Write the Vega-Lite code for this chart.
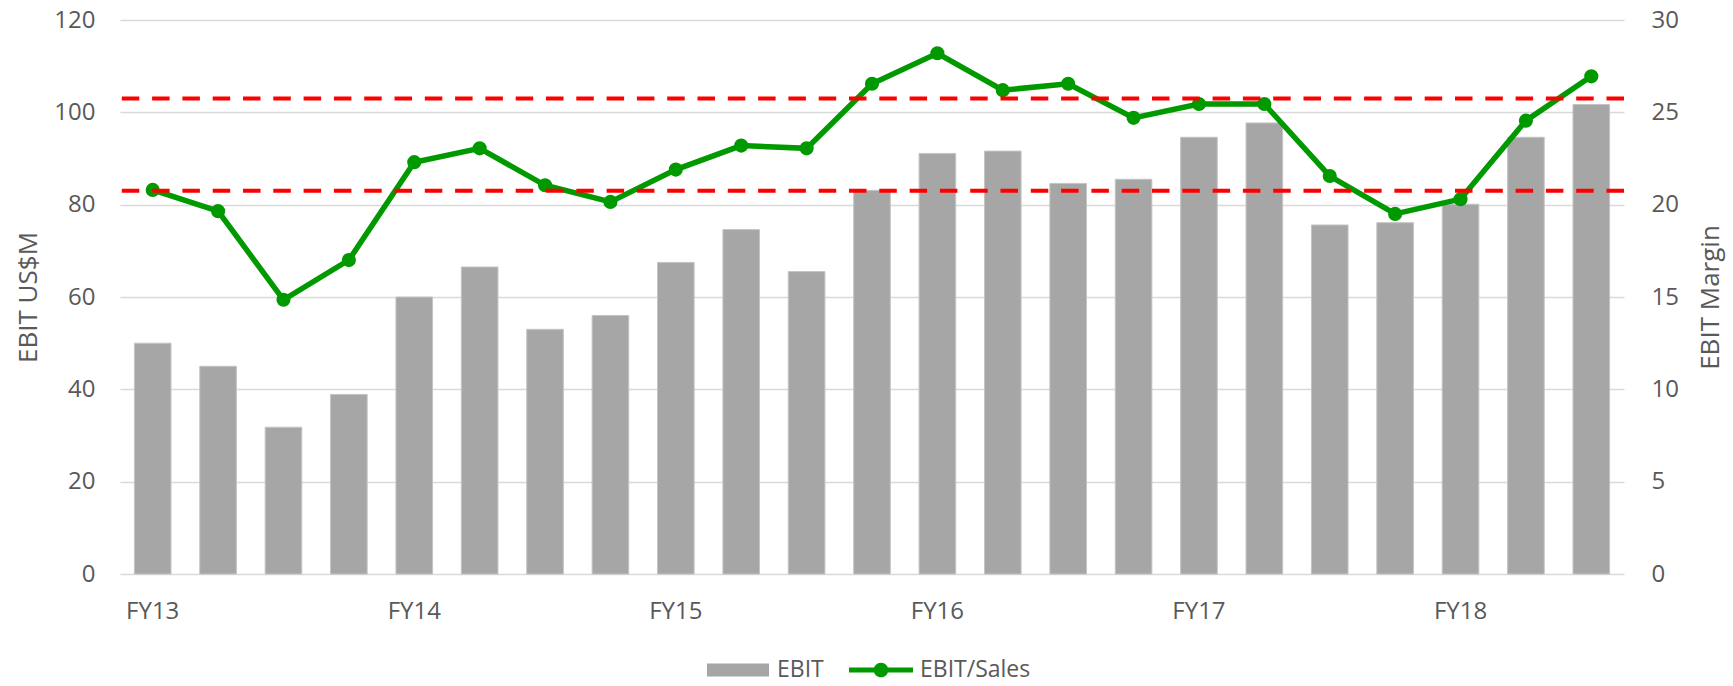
{
  "$schema": "https://vega.github.io/schema/vega-lite/v6.json",
  "width": 1504,
  "height": 554,
  "autosize": {"type": "none"},
  "padding": {"left": 120, "top": 20, "right": 109, "bottom": 112},
  "background": "white",
  "config": {
    "font": "Open Sans",
    "view": {"stroke": null},
    "axis": {
      "labelFont": "Open Sans",
      "titleFont": "Open Sans",
      "labelColor": "#595959",
      "titleColor": "#595959",
      "labelFontSize": 24,
      "titleFontSize": 26,
      "titleFontWeight": "normal",
      "ticks": false,
      "tickSize": 0,
      "domain": false,
      "gridColor": "#d9d9d9",
      "gridWidth": 1.5
    }
  },
  "datasets": {
    "quarters": [
      {"quarter": "FY13 Q1", "ebit": 50.0, "margin": 20.8},
      {"quarter": "FY13 Q2", "ebit": 45.0, "margin": 19.65},
      {"quarter": "FY13 Q3", "ebit": 31.8, "margin": 14.85},
      {"quarter": "FY13 Q4", "ebit": 38.9, "margin": 17.0},
      {"quarter": "FY14 Q1", "ebit": 60.0, "margin": 22.3},
      {"quarter": "FY14 Q2", "ebit": 66.5, "margin": 23.05},
      {"quarter": "FY14 Q3", "ebit": 53.0, "margin": 21.05},
      {"quarter": "FY14 Q4", "ebit": 56.0, "margin": 20.15},
      {"quarter": "FY15 Q1", "ebit": 67.5, "margin": 21.9},
      {"quarter": "FY15 Q2", "ebit": 74.6, "margin": 23.2},
      {"quarter": "FY15 Q3", "ebit": 65.5, "margin": 23.05},
      {"quarter": "FY15 Q4", "ebit": 83.1, "margin": 26.55},
      {"quarter": "FY16 Q1", "ebit": 91.1, "margin": 28.2},
      {"quarter": "FY16 Q2", "ebit": 91.6, "margin": 26.2},
      {"quarter": "FY16 Q3", "ebit": 84.6, "margin": 26.55},
      {"quarter": "FY16 Q4", "ebit": 85.5, "margin": 24.7},
      {"quarter": "FY17 Q1", "ebit": 94.6, "margin": 25.45},
      {"quarter": "FY17 Q2", "ebit": 97.7, "margin": 25.45},
      {"quarter": "FY17 Q3", "ebit": 75.6, "margin": 21.55},
      {"quarter": "FY17 Q4", "ebit": 76.1, "margin": 19.5},
      {"quarter": "FY18 Q1", "ebit": 80.1, "margin": 20.3},
      {"quarter": "FY18 Q2", "ebit": 94.6, "margin": 24.55},
      {"quarter": "FY18 Q3", "ebit": 101.7, "margin": 26.95}
    ],
    "levels": [
      {"level": 25.75},
      {"level": 20.75}
    ],
    "legend": [
      {"series": "EBIT"},
      {"series": "EBIT/Sales"}
    ]
  },
  "layer": [
    {
      "data": {"name": "quarters"},
      "mark": {"type": "bar", "color": "#a6a6a6", "stroke": "#c4c4c4", "strokeWidth": 1},
      "encoding": {
        "x": {
          "field": "quarter",
          "type": "nominal",
          "sort": null,
          "scale": {"paddingInner": 0.44, "paddingOuter": 0.22},
          "axis": {
            "title": null,
            "labelAngle": 0,
            "labelPadding": 25,
            "labelOverlap": false,
            "labelExpr": "indexof(datum.value, 'Q1') > 0 ? slice(datum.value, 0, 4) : ''"
          }
        },
        "y": {
          "field": "ebit",
          "type": "quantitative",
          "scale": {"domain": [0, 120]},
          "axis": {
            "title": "EBIT US$M",
            "orient": "left",
            "values": [0, 20, 40, 60, 80, 100, 120],
            "grid": true,
            "labelPadding": 25,
            "titlePadding": 12
          }
        }
      }
    },
    {
      "layer": [
        {
          "data": {"name": "quarters"},
          "mark": {
            "type": "line",
            "color": "#009900",
            "strokeWidth": 5.5,
            "point": {"filled": true, "size": 200, "color": "#009900"}
          },
          "encoding": {
            "x": {"field": "quarter", "type": "nominal", "sort": null},
            "y": {
              "field": "margin",
              "type": "quantitative",
              "scale": {"domain": [0, 30]},
              "axis": {
                "title": "EBIT Margin",
                "orient": "right",
                "grid": false,
                "values": [0, 5, 10, 15, 20, 25, 30],
                "labelPadding": 27,
                "titleAngle": 270,
                "titlePadding": 45
              }
            }
          }
        },
        {
          "data": {"name": "levels"},
          "mark": {"type": "rule", "color": "#ff0000", "strokeWidth": 4, "strokeDash": [17.5, 12.8]},
          "encoding": {
            "y": {
              "field": "level",
              "type": "quantitative",
              "axis": {
                "title": "EBIT Margin",
                "orient": "right",
                "grid": false,
                "values": [0, 5, 10, 15, 20, 25, 30],
                "labelPadding": 27,
                "titleAngle": 270,
                "titlePadding": 45
              }
            }
          }
        }
      ]
    },
    {
      "data": {"name": "legend"},
      "mark": {"type": "point", "filled": true, "size": 0},
      "encoding": {
        "color": {
          "field": "series",
          "type": "nominal",
          "scale": {"domain": ["EBIT", "EBIT/Sales"], "range": ["#a6a6a6", "#009900"]},
          "legend": {
            "orient": "none",
            "legendX": 586,
            "legendY": 618,
            "direction": "horizontal",
            "title": null,
            "symbolSize": 4096,
            "symbolStrokeWidth": 0,
            "symbolOpacity": 1,
            "labelFontSize": 23,
            "labelColor": "#595959",
            "labelFont": "Open Sans",
            "labelOffset": 7,
            "columnPadding": 25,
            "padding": 0
          }
        },
        "shape": {
          "field": "series",
          "type": "nominal",
          "scale": {
            "domain": ["EBIT", "EBIT/Sales"],
            "range": [
              "M-0.97,-0.2H0.97V0.2H-0.97Z",
              "M-1,-0.075H1V0.075H-1Z M0.23,0A0.23,0.23 0 1 1 -0.23,0A0.23,0.23 0 1 1 0.23,0Z"
            ]
          },
          "legend": {
            "orient": "none",
            "legendX": 586,
            "legendY": 618,
            "direction": "horizontal",
            "title": null,
            "symbolSize": 4096,
            "symbolStrokeWidth": 0,
            "symbolOpacity": 1,
            "labelFontSize": 23,
            "labelColor": "#595959",
            "labelFont": "Open Sans",
            "labelOffset": 7,
            "columnPadding": 25,
            "padding": 0
          }
        }
      }
    }
  ],
  "resolve": {"scale": {"y": "independent"}}
}
